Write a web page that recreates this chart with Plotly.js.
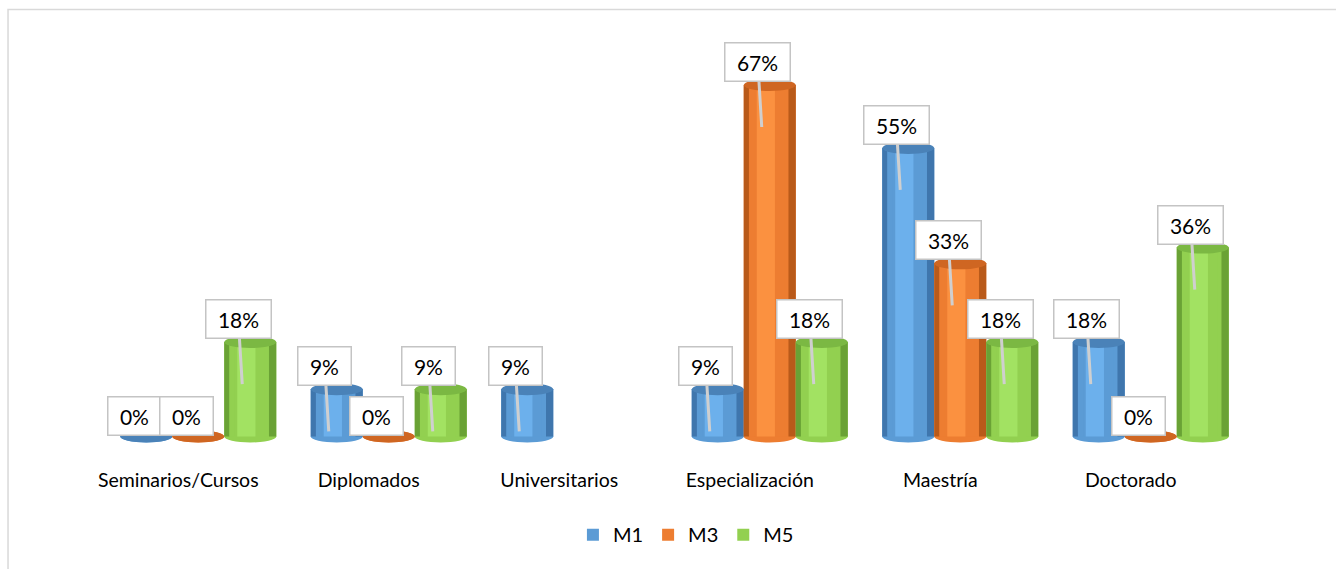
<!DOCTYPE html>
<html>
<head>
<meta charset="utf-8">
<script src="https://cdn.plot.ly/plotly-3.0.1.min.js"></script>
<style>html,body{margin:0;padding:0;background:#fff;}#chart{width:1336px;height:569px;}</style>
</head>
<body>
<div id="chart"></div>
<script>
const categories = ['Seminarios/Cursos','Diplomados','Universitarios','Especialización','Maestría','Doctorado'];
const seriesNames = ['M1','M3','M5'];
const m1 = [0, 9, 9, 9, 55, 18];
const m3 = [0, 0, null, 67, 33, 0];
const m5 = [18, 9, null, 18, 18, 36];
const seriesValues = [m1, m3, m5];

const palettes = [
  {mid:'#5b9bd5', dark:'#3f76ad', light:'#6cb0ec', top:'#4a82b8'},
  {mid:'#ed7d31', dark:'#b95a1a', light:'#fb9140', top:'#cf6622'},
  {mid:'#92d050', dark:'#6aa235', light:'#a2e262', top:'#7bb843'}
];

const FONT = 'Lato, Carlito, Liberation Sans, sans-serif';
const W = 0.273;           // bar width in category units
const PX = 52;             // bar width in pixels
const traces = [];
const shapes = [];
const annotations = [];

seriesValues.forEach((vals, k) => {
  const o = -1.5 * W + k * W;
  const p = palettes[k];
  const layers = [
    {off:0, w:1, c:p.mid, legend:true},
    {off:0, w:0.10, c:p.dark},
    {off:0.10, w:0.10, c:p.mid},
    {off:0.25, w:0.35, c:p.light},
    {off:0.78, w:0.10, c:p.mid},
    {off:0.86, w:0.14, c:p.dark}
  ];
  layers.forEach(L => {
    traces.push({
      type:'bar', x:categories, y:vals, name:seriesNames[k],
      legendgroup:seriesNames[k], showlegend:!!L.legend,
      offset:o + L.off * W, width:L.w * W,
      marker:{color:L.c, opacity:1, line:{width:0}},
      hoverinfo:'skip'
    });
  });
  const pxOff = (k - 1) * PX;
  vals.forEach((v, i) => {
    if (v === null) return;
    shapes.push({type:'circle', layer:'below', xref:'x', yref:'y',
      xsizemode:'pixel', ysizemode:'pixel', xanchor:categories[i], yanchor:0,
      x0:pxOff-26, x1:pxOff+26, y0:-6, y1:6,
      fillcolor:p.mid, line:{width:0}});
    shapes.push({type:'circle', layer:'above', xref:'x', yref:'y',
      xsizemode:'pixel', ysizemode:'pixel', xanchor:categories[i], yanchor:v,
      x0:pxOff-26, x1:pxOff+26, y0:-6, y1:6,
      fillcolor:p.top, line:{width:0}});
    const depth = v > 0 ? 42 : -5;
    const boxAbove = v > 0 ? 23 : 21;
    annotations.push({
      x:categories[i], y:v, xref:'x', yref:'y',
      xshift:pxOff - 8, yshift:-depth,
      text:'\u00a0' + v + '%\u00a0',
      showarrow:true, arrowhead:0, arrowwidth:3, arrowcolor:'#cfcfcf',
      standoff:0, startstandoff:0,
      ax:-4, ay:-(depth + boxAbove),
      bgcolor:'#ffffff', bordercolor:'#c4c4c4', borderwidth:1.5, borderpad:6,
      font:{family:FONT, size:21, color:'#000'}
    });
  });
});

shapes.push({type:'rect', xref:'paper', yref:'paper', layer:'below',
  x0:-0.0831, x1:1.2, y0:-0.35, y1:1.083,
  line:{color:'#d9d9d9', width:1.5}, fillcolor:'rgba(0,0,0,0)'});

const layout = {
  width:1336, height:569, autosize:false,
  margin:{l:103, r:90, t:43, b:122},
  paper_bgcolor:'#ffffff', plot_bgcolor:'#ffffff',
  barmode:'overlay',
  font:{family:FONT, color:'#000'},
  xaxis:{type:'category', categoryorder:'array', categoryarray:categories,
    showgrid:false, zeroline:false, showline:false,
    ticks:'outside', ticklen:16, tickcolor:'rgba(0,0,0,0)',
    ticklabelshift:-20,
    tickfont:{size:19.5, color:'#000', family:FONT}},
  yaxis:{range:[-2, 75], visible:false, showgrid:false, zeroline:false, fixedrange:true},
  showlegend:true,
  legend:{orientation:'h', x:0.51, xanchor:'center', y:-0.217, yanchor:'middle',
    font:{size:20, color:'#000'}, itemwidth:30, traceorder:'normal'},
  shapes:shapes,
  annotations:annotations
};

Plotly.newPlot('chart', traces, layout, {displayModeBar:false, staticPlot:true});
</script>
</body>
</html>
